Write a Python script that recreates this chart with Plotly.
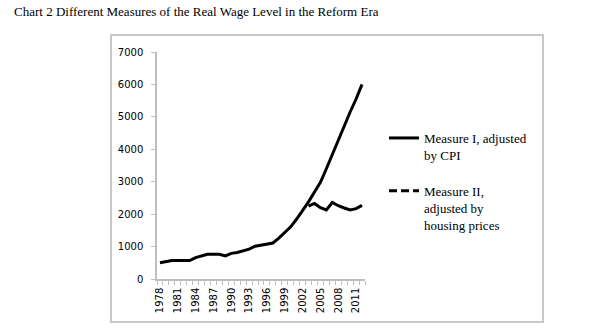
import plotly.graph_objects as go

years = list(range(1978, 2013))
measure_1 = [500, 540, 570, 570, 570, 570, 660, 700, 760, 760, 760, 710, 790, 820, 860,
             920, 1010, 1050, 1080, 1110, 1260, 1420, 1610, 1850, 2100, 2380, 2680, 2980,
             3400, 3850, 4300, 4750, 5150, 5550, 6000]
measure_2_years = list(range(2003, 2013))
measure_2 = [2250, 2330, 2200, 2130, 2360, 2260, 2190, 2130, 2170, 2270]
tick_years = list(range(1978, 2012, 3))
y_ticks = [0, 1000, 2000, 3000, 4000, 5000, 6000, 7000]

name_1 = "Measure I, adjusted<br>by CPI"
name_2 = "Measure II,<br>adjusted by<br>housing prices"

fig = go.Figure()
fig.add_trace(go.Scatter(x=years, y=measure_1, mode="lines", name=name_1,
                         line=dict(color="black", width=3), legendgroup="a"))
fig.add_trace(go.Scatter(x=measure_2_years, y=measure_2, mode="lines", name=name_2,
                         line=dict(color="black", width=3), showlegend=False, legendgroup="b"))
fig.add_trace(go.Scatter(x=[None], y=[None], mode="lines", name=name_2,
                         line=dict(color="black", width=3, dash="8px,4px"), legendgroup="b"))

W, H = 592, 335
L, R, T, B = 157, 365, 52, 279

def px(x):
    return (x - L) / (R - L)

def py(y):
    return (B - y) / (B - T)

fig.add_shape(type="rect", xref="paper", yref="paper",
              x0=px(111), x1=px(543), y0=py(322), y1=py(35),
              line=dict(color="#c8c8c8", width=2), fillcolor="rgba(0,0,0,0)")

fig.update_layout(
    width=W, height=H,
    margin=dict(l=L, r=W - R, t=T, b=H - B, pad=0),
    paper_bgcolor="white", plot_bgcolor="white",
    showlegend=True,
    legend=dict(x=px(384), y=py(123), xanchor="left", yanchor="top",
                valign="top",
                font=dict(family="Liberation Serif", size=13, color="black"),
                tracegroupgap=16, bgcolor="rgba(0,0,0,0)"),
    title=dict(text="Chart 2 Different Measures of the Real Wage Level in the Reform Era",
               x=14 / W, xanchor="left", xref="container",
               y=1 - 7 / H, yanchor="top", yref="container",
               font=dict(family="Liberation Serif", size=13, color="black")),
)
fig.update_xaxes(range=[1977.5, 2012.5], tickmode="array", tickvals=tick_years,
                 ticktext=[str(t) for t in tick_years], tickangle=-90,
                 ticks="", showgrid=False, zeroline=False,
                 showline=True, linecolor="#bfbfbf", linewidth=1.5,
                 ticklabelstandoff=3,
                 tickfont=dict(family="DejaVu Sans", size=10, color="black"),
                 minor=dict(tickmode="linear", tick0=1977.5, dtick=1, ticks="outside",
                            ticklen=4, tickcolor="#bfbfbf", showgrid=False))
fig.update_yaxes(range=[0, 7000], tickvals=y_ticks, ticks="outside", ticklen=4,
                 tickcolor="#bfbfbf", showgrid=False, zeroline=False,
                 showline=True, linecolor="#bfbfbf", linewidth=1.5,
                 ticklabelstandoff=6,
                 tickfont=dict(family="DejaVu Sans", size=10, color="black"))

fig.write_html("out.html")
